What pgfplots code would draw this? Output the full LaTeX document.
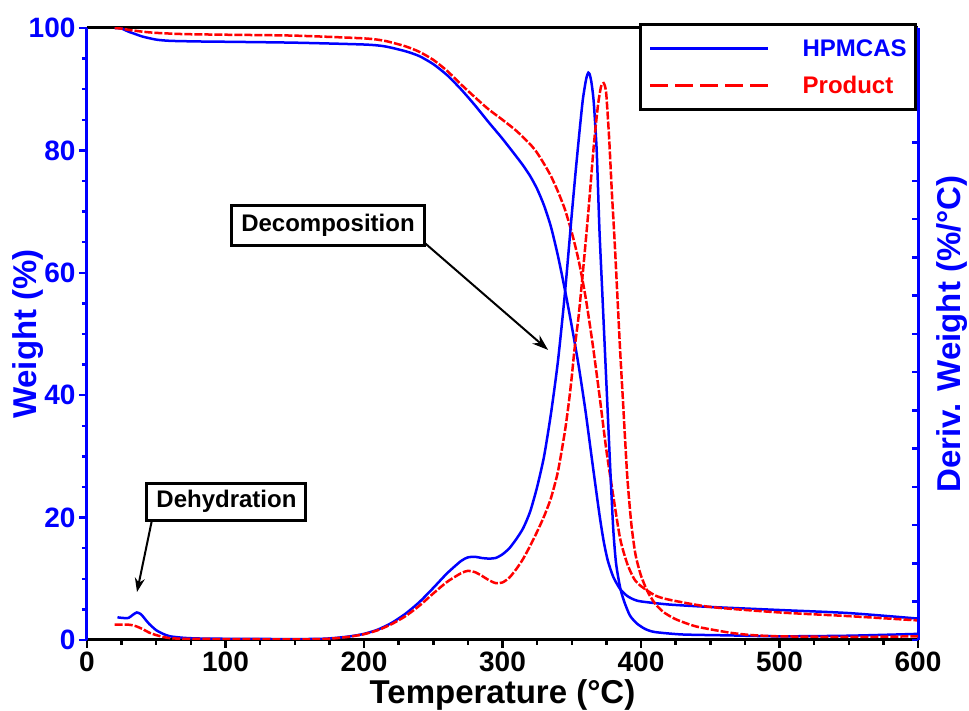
\documentclass[border=0pt]{standalone}
\usepackage{fontspec}
\setmainfont{Liberation Sans}
\usepackage{pgfplots}
\usepackage{pgfplotstable}
\pgfplotsset{compat=1.18}
\usetikzlibrary{arrows.meta}
\newcommand\fs[1]{\fontsize{#1}{#1}\selectfont\bfseries}
\pgfplotsset{longline/.style={legend image code/.code={\draw[##1] (0pt,0pt) -- (118pt,0pt);}}}

\pgfplotstableread{
T W
20 100
25 99.9
30 99.4
35 99.0
40 98.6
50 98.1
60 97.9
80 97.8
100 97.75
150 97.6
200 97.3
215 97.0
230 96.2
240 95.4
250 94.1
260 92.3
270 90.0
280 87.4
290 84.6
300 81.9
310 79.0
315 77.5
320 75.8
325 73.7
330 71.0
335 67.5
340 62.8
345 57.3
350 51.3
355 44.8
360 37.3
365 28.8
370 20.5
373 16.2
376 13.0
380 10.3
385 8.3
390 7.2
395 6.6
400 6.3
420 5.8
450 5.4
500 4.9
550 4.4
600 3.5
}\tgaA

\pgfplotstableread{
T W
20 100
25 99.9
30 99.7
40 99.4
50 99.2
70 99.0
100 98.9
150 98.75
200 98.3
215 97.9
230 97.0
240 96.1
250 94.8
260 93.0
270 90.8
280 88.7
290 86.7
300 85.0
310 83.2
320 81.0
325 79.6
330 77.8
335 75.8
340 73.3
345 70.4
350 66.6
355 62.0
360 56.0
365 48.5
370 40.0
375 31.0
380 23.5
385 16.5
390 12.5
395 10.0
400 8.8
410 7.3
420 6.6
450 5.4
500 4.5
550 3.9
600 3.2
}\tgaB

\pgfplotstableread{
T D
22 3.7
26 3.6
30 3.6
33 4.1
36 4.5
39 4.2
42 3.4
45 2.6
50 1.6
55 1.0
60 0.6
70 0.35
80 0.25
100 0.2
150 0.15
170 0.2
180 0.35
190 0.6
200 1.0
210 1.7
220 2.8
230 4.3
240 6.2
250 8.5
260 10.9
270 12.9
275 13.5
280 13.6
285 13.4
290 13.3
295 13.4
300 14.0
305 15.0
310 16.5
315 18.3
320 21.0
325 25.0
330 30.0
335 37.0
340 45.5
345 56.5
350 69.5
353 77
356 84
358 88.3
360 91.2
361 92.2
362 92.7
363 92.4
364 91.4
365 89.8
366 87.5
368 80
370 67
372 57
374 47
376 37
378 27
380 18
382 12.5
385 8.5
388 6.2
392 4.0
397 2.7
403 1.8
410 1.3
430 0.9
464 0.75
500 0.6
550 0.7
600 1.0
}\dtgA

\pgfplotstableread{
T D
20 2.5
25 2.5
30 2.5
33 2.4
36 2.2
40 1.8
45 1.2
50 0.8
55 0.5
60 0.3
70 0.2
100 0.15
150 0.1
170 0.15
180 0.3
190 0.55
200 0.95
210 1.6
220 2.6
230 3.9
240 5.6
250 7.6
260 9.5
270 10.9
275 11.3
280 11.1
285 10.5
290 9.8
295 9.3
300 9.4
305 10.2
310 11.6
315 13.3
320 15.4
325 17.7
330 20.2
335 23.2
340 27.5
345 34
348 39
350 43
352 47.5
355 53
358 60
362 70
366 81
369 87.5
371 90.3
372 90.9
373 91
374 90.5
375 89
377 82
379 73
381 65
383 56
385 47
387 39
390 27
393 19
396 14
400 10.5
405 7.8
410 6.0
416 4.6
425 3.4
440 2.2
464 1.2
480 0.8
500 0.6
550 0.5
600 0.6
}\dtgB

\begin{document}
\begin{tikzpicture}
\path[use as bounding box] (-87pt,-71pt) rectangle (882pt,640pt);
\begin{axis}[
  at={(0pt,0pt)}, anchor=south west,
  scale only axis, width=831pt, height=612pt,
  xmin=0, xmax=600, ymin=0, ymax=100,
  separate axis lines,
  x axis line style={black, line width=3pt},
  y axis line style={blue, line width=3pt},
  xtick={0,100,...,600}, minor x tick num=3,
  ytick={0,20,...,100}, minor y tick num=3,
  xtick pos=bottom, ytick pos=left,
  tick align=outside,
  major tick length=8pt, minor tick length=5pt,
  x tick style={black, line width=2.5pt},
  y tick style={blue, line width=2.5pt},
  /pgf/number format/assume math mode=true,
  ticklabel style={font=\fs{28}},
  x tick label style={black},
  y tick label style={blue},
  xlabel={Temperature (°C)},
  ylabel={Weight (\%)},
  xlabel style={font=\fs{33}, black, at={([yshift=-55pt]axis description cs:0.5,0)}, anchor=center},
  ylabel style={font=\fs{33}, blue, at={([xshift=-59pt]axis description cs:0,0.5)}, anchor=center},
]
\addplot[blue, line width=2.5pt, smooth, tension=0.4] table[x=T, y=W] {\tgaA};
\addplot[red, line width=2.5pt, dash pattern=on 8pt off 2pt, smooth, tension=0.4] table[x=T, y=W] {\tgaB};
\end{axis}
\begin{axis}[
  at={(0pt,0pt)}, anchor=south west,
  scale only axis, width=831pt, height=612pt,
  xmin=0, xmax=600, ymin=0, ymax=100,
  axis x line=none, axis y line*=right,
  y axis line style={blue, line width=3pt},
  ytick={0,6.25,...,100}, yticklabels={},
  tick align=inside, major tick length=6pt,
  y tick style={blue, line width=2.5pt},
  ylabel={Deriv. Weight (\%/°C)},
  ylabel style={font=\fs{33}, blue, at={([xshift=34pt]axis description cs:1,0.5)}, anchor=center},
  legend style={at={(rel axis cs:0.999,1.008)}, anchor=north east, draw=black, line width=3pt,
     font=\fs{24}, inner xsep=9pt, inner ysep=15pt, column sep=33pt, row sep=18pt,
     nodes={inner sep=0pt, anchor=west}},
  legend cell align=left,
]
\addlegendimage{blue, line width=2.5pt, longline}
\addlegendimage{red, line width=2.5pt, dash pattern=on 18pt off 7pt, longline}
\addplot[blue, line width=2.5pt, smooth, tension=0.4] table[x=T, y=D] {\dtgA};
\addplot[red, line width=2.5pt, dash pattern=on 8pt off 2pt, smooth, tension=0.4] table[x=T, y=D] {\dtgB};
\legend{\textcolor{blue}{HPMCAS}, \textcolor{red}{Product}}
\node[draw=black, line width=3pt, fill=white, minimum width=193pt, minimum height=40pt, inner sep=0pt, font=\fs{24}] at (axis cs:174,67.8) {Decomposition};
\node[draw=black, line width=3pt, fill=white, minimum width=159pt, minimum height=37pt, inner sep=0pt, font=\fs{24}] at (axis cs:100.7,22.6) {Dehydration};
\draw[-{Stealth[length=16pt,width=11pt]}, line width=2pt] (axis cs:243.7,64.9) -- (axis cs:332.9,47.4);
\draw[-{Stealth[length=14pt,width=10pt]}, line width=2pt] (axis cs:46.9,19.6) -- (axis cs:36.1,7.84);
\end{axis}
\end{tikzpicture}
\end{document}
